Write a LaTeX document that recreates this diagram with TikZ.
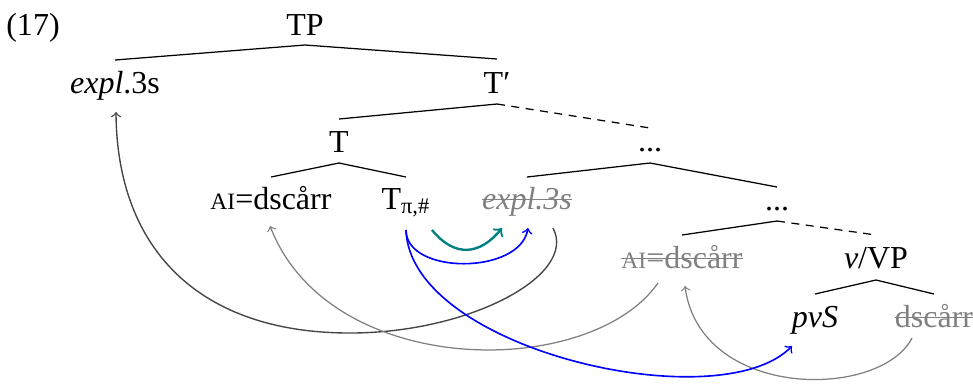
\documentclass[tikz,border=0pt]{standalone}
\usepackage{fontspec}
\setmainfont{Liberation Serif}
\usepackage{xcolor}
\usetikzlibrary{calc}

\definecolor{copygray}{gray}{0.5}
\definecolor{movedark}{gray}{0.27}
\definecolor{moveteal}{RGB}{0,128,128}

% small caps faked by a smaller size
\newcommand\fakesc[1]{{\fontsize{9.4}{11}\selectfont #1}}
% grey, struck-through lower copy
\newcommand\struck[1]{{\color{copygray}\setbox0=\hbox{#1}\rlap{\rule[0.27em]{\wd0}{0.045em}}\box0}}

\begin{document}
\begin{tikzpicture}[
    x=0.4pt, y=-0.4pt,
    lbl/.style={anchor=base, inner sep=0pt, font=\fontsize{12.8}{15}\selectfont},
    branch/.style={line width=0.5pt},
    elide/.style={branch, dash pattern=on 3.2pt off 2.6pt},
    mvgray/.style={->, line width=0.5pt, draw=copygray},
    mvdark/.style={->, line width=0.55pt, draw=movedark},
    mvblue/.style={->, line width=0.65pt, draw=blue},
    mvteal/.style={->, line width=0.95pt, draw=moveteal}]
  \useasboundingbox (0,0) rectangle (973,383);

  \node[lbl] (exnum)    at (33,35)   {(17)};
  \node[lbl] (tp)       at (305,35)  {TP};
  \node[lbl] (expl)     at (115,93)  {\textit{expl}.3s};
  \node[lbl] (tbar)     at (497,93)  {T′};
  \node[lbl] (t)        at (339,152) {T};
  \node[lbl] (dotsa)    at (650,151) {...};
  \node[lbl] (ai)       at (271,209) {\fakesc{AI}=dscårr};
  \node[lbl] (tpi)      at (406,209) {T\textsubscript{π,\#}};
  \node[lbl] (explcopy) at (527,209) {\struck{\textit{expl.3s}}};
  \node[lbl] (dotsb)    at (777,210) {...};
  \node[lbl] (aicopy)   at (682,268) {\struck{\fakesc{AI}=dscårr}};
  \node[lbl] (vp)       at (876,268) {\textit{v}/VP};
  \node[lbl] (pvs)      at (815,327) {\textit{pvS}};
  \node[lbl] (dsccopy)  at (934,327) {\struck{dscårr}};

  % tree
  \draw[branch] ([yshift=13.2pt]expl.base) -- ([yshift=-4pt]tp.base) -- ([yshift=13.6pt]tbar.base);
  \draw[branch] ([yshift=13.2pt]t.base) -- ([yshift=-4.4pt]tbar.base);
  \draw[elide]  ([yshift=-4.4pt]tbar.base) -- ([yshift=9.2pt]dotsa.base);
  \draw[branch] ([yshift=12.8pt]ai.base) -- ([yshift=-4.4pt]t.base) -- ([yshift=12.8pt]tpi.base);
  \draw[branch] ([yshift=12.8pt]explcopy.base) -- ([yshift=-4.8pt]dotsa.base) -- ([yshift=9.2pt]dotsb.base);
  \draw[branch] ([yshift=13.2pt]aicopy.base) -- ([yshift=-4.4pt]dotsb.base);
  \draw[elide]  ([yshift=-4.4pt]dotsb.base) -- ([yshift=13.2pt]vp.base);
  \draw[branch] ([yshift=13.2pt]pvs.base) -- ([yshift=-4.8pt]vp.base) -- ([yshift=13.2pt]dsccopy.base);

  % movement
  \draw[mvdark] ($(explcopy.base)+(26,19)$) .. controls (578,275) and (470,333) .. (350,333)
                .. controls (200,333) and (117,250) .. ($(expl.base)+(1,19)$);
  \draw[mvgray] ($(aicopy.base)+(-24,15)$) .. controls (590,380) and (330,380) .. ($(ai.base)+(-1,17)$);
  \draw[mvgray] ($(dsccopy.base)+(-22,11)$) .. controls (880,400) and (700,400) .. ($(aicopy.base)+(3,18)$);
  \draw[mvteal] ($(tpi.base)+(26,21)$) .. controls (455,258) and (480,255) .. ($(explcopy.base)+(-25,19)$);
  \draw[mvblue] ($(tpi.base)+(0,21)$) .. controls (406,275) and (520,275) .. ($(explcopy.base)+(1,19)$);
  \draw[mvblue] ($(tpi.base)+(0,21)$) .. controls (410,350) and (720,420) .. ($(pvs.base)+(-23,19)$);
\end{tikzpicture}
\end{document}
